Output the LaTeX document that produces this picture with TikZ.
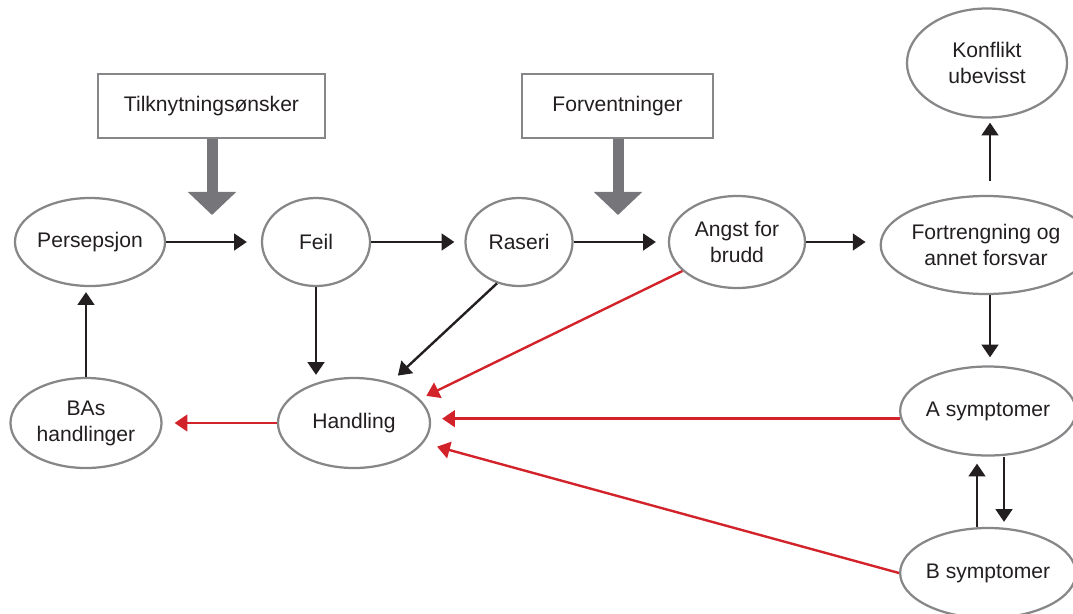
\documentclass[tikz,border=0pt]{standalone}
\usepackage{fontspec}
\setmainfont{Liberation Sans}
\usetikzlibrary{arrows.meta,shapes.geometric,calc}
\definecolor{rd}{RGB}{210,35,42}
\definecolor{gr}{RGB}{135,135,138}
\definecolor{grf}{RGB}{118,118,122}
\definecolor{txt}{RGB}{35,31,32}
\begin{document}
\begin{tikzpicture}[x=0.025cm,y=-0.025cm,
 every node/.style={font=\fontsize{15}{18.5}\selectfont, align=center, text=txt},
 ell/.style={ellipse, draw=gr, line width=1.6pt, inner sep=0pt, fill=white},
 box/.style={rectangle, draw=gr, line width=1.6pt, inner sep=0pt, fill=white},
 blk/.style={draw=txt, line width=1.7pt, -{Triangle[length=0.32cm,width=0.42cm]}},
 redarr/.style={draw=rd, line width=1.7pt, -{Triangle[length=0.32cm,width=0.42cm]}},
 bigarr/.style={draw=grf, line width=0.275cm, -{Triangle[length=0.575cm,width=1.175cm]}},
]
\useasboundingbox (0,0) rectangle (1073,613);

% boxes
\node[box, minimum width=5.675cm, minimum height=1.6cm] (tilk) at (211.5,106) {Tilknytningsønsker};
\node[box, minimum width=4.775cm, minimum height=1.6cm] (forv) at (617.5,106) {Forventninger};

% ellipses
\node[ell, minimum width=3.75cm, minimum height=2.2cm] (pers) at (90,242) {Persepsjon};
\node[ell, minimum width=2.7cm, minimum height=2.2cm] (feil) at (316,242) {Feil};
\node[ell, minimum width=2.675cm, minimum height=2.2cm] (raseri) at (519,242) {Raseri};
\node[ell, minimum width=3.4cm, minimum height=2.3cm] (angst) at (737,242) {Angst for\\brudd};
\node[ell, minimum width=4.2cm, minimum height=2.45cm] (fort) at (986,245) {Fortrengning og\\annet forsvar};
\node[ell, minimum width=4.0cm, minimum height=2.725cm] (konf) at (987,63) {Konflikt\\ubevisst};
\node[ell, minimum width=4.35cm, minimum height=2.225cm] (asym) at (988,411) {A symptomer};
\node[ell, minimum width=4.35cm, minimum height=2.25cm] (bsym) at (988,573) {B symptomer};
\node[ell, minimum width=3.775cm, minimum height=2.25cm] (bas) at (86,423) {BAs\\handlinger};
\node[ell, minimum width=3.8cm, minimum height=2.25cm] (hand) at (354,423) {Handling};

% big grey arrows
\coordinate (t1) at (212,215);
\coordinate (t2) at (618,215);
\draw[bigarr] (tilk.south -| t1) -- (t1);
\draw[bigarr] (forv.south -| t2) -- (t2);

% black arrows
\draw[blk, shorten >=0.35cm] (pers.east) -- (pers.east -| feil.west);
\draw[blk, shorten >=0.25cm] (feil.east) -- (feil.east -| raseri.west);
\draw[blk, shorten >=0.3cm] (raseri.east) -- (raseri.east -| angst.west);
\draw[blk, shorten >=0.35cm] (angst.east) -- (angst.east -| fort.west);
\draw[blk, shorten >=0.05cm] (feil.south) -- (feil.south |- hand.north);
\draw[blk, shorten >=0.25cm] (raseri.242) -- (hand.48);
\draw[blk, shorten >=0.125cm] (bas.north) -- (bas.north |- pers.south);
\draw[blk, shorten <=0.35cm, shorten >=0.1cm] ([xshift=0.1cm]fort.north) -- ([xshift=0.1cm]fort.north |- konf.south);
\draw[blk, shorten >=0.2cm] ([xshift=0.1cm]fort.south) -- ([xshift=0.1cm]fort.south |- asym.north);
\draw[blk, shorten >=0.125cm] ([xshift=0.4cm]asym.south) -- ([xshift=0.4cm]asym.south |- bsym.north);
\draw[blk, shorten >=0.175cm] ([xshift=-0.275cm]bsym.north) -- ([xshift=-0.275cm]bsym.north |- asym.south);

% red arrows
\draw[redarr, shorten >=0.3cm] (hand.west) -- (hand.west -| bas.east);
\draw[redarr, shorten >=0.18cm] (angst.208) -- (hand.20);
\draw[redarr, shorten >=0.275cm] (asym.185) -- (asym.185 -| hand.east);
\draw[redarr, shorten >=0.35cm] (bsym.west) -- (hand.-16);
\end{tikzpicture}
\end{document}
